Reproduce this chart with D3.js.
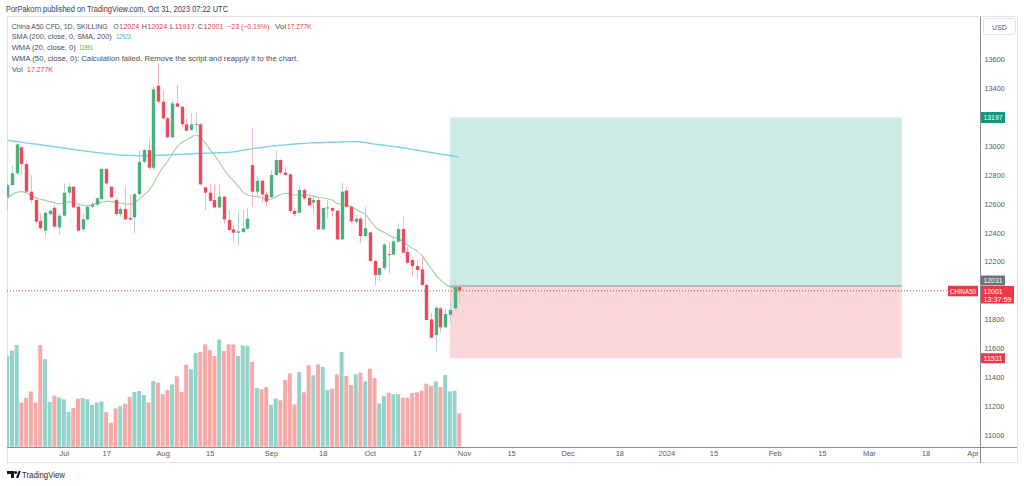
<!DOCTYPE html>
<html><head><meta charset="utf-8">
<script src="https://cdn.jsdelivr.net/npm/d3@7"></script>
<style>
body{margin:0;background:#fff;}
svg{display:block;font-family:"Liberation Sans",Arial,sans-serif;}
</style></head><body><svg id="c" width="1024" height="486"></svg>
<script>
// ---- data ----
const opens  = [12649,12730,12811,12991,12875,12684,12626,12481,12414,12529,12573,12437,12518,12677,12718,12580,12423,12492,12580,12594,12633,12841,12718,12626,12529,12564,12502,12506,12668,12891,12972,12850,13417,13307,13191,13060,13295,13272,13150,13111,13148,13150,12714,12677,12626,12575,12649,12488,12423,12400,12405,12428,12868,12684,12760,12665,12645,12799,12903,12815,12804,12550,12538,12695,12642,12608,12626,12423,12568,12571,12552,12354,12691,12580,12476,12497,12377,12402,12204,12107,12155,12252,12248,12338,12425,12268,12211,12169,12146,12038,11800,11692,11876,11745,11832,11876,12024];
const highs  = [12746,12861,13023,13000,12891,12799,12649,12534,12545,12561,12591,12534,12741,12741,12723,12591,12534,12591,12615,12645,12852,12845,12723,12638,12580,12718,12661,12672,12972,12984,13046,13410,13572,13387,13203,13318,13422,13277,13191,13226,13237,13157,12718,12741,12730,12741,12654,12557,12453,12545,12557,12568,13122,12788,12764,12684,12834,12972,12908,12857,12811,12568,12730,12707,12672,12661,12638,12580,12626,12580,12557,12748,12718,12591,12522,12511,12580,12407,12211,12165,12326,12338,12372,12465,12511,12303,12234,12211,12238,12045,11842,11892,11888,11876,11934,12072,12024];
const lows   = [12557,12718,12799,12799,12672,12603,12465,12418,12372,12511,12430,12384,12511,12649,12568,12407,12407,12483,12568,12580,12626,12730,12638,12511,12511,12488,12483,12395,12661,12880,12834,12834,13295,13180,13053,13053,13267,13134,13099,13106,13087,12728,12557,12615,12568,12568,12465,12407,12338,12315,12395,12418,12580,12649,12603,12580,12638,12788,12799,12788,12534,12511,12534,12626,12580,12534,12418,12418,12499,12511,12349,12349,12568,12465,12465,12326,12361,12197,12038,12061,12142,12119,12245,12331,12257,12183,12096,12084,12031,11791,11669,11572,11703,11738,11772,11860,11917];
const closes = [12730,12811,13011,12875,12684,12626,12476,12430,12538,12552,12442,12518,12677,12718,12575,12414,12492,12580,12596,12638,12841,12741,12645,12529,12564,12492,12492,12668,12891,12972,12850,13392,13307,13191,13060,13295,13272,13150,13106,13150,13152,12734,12677,12621,12575,12649,12492,12418,12400,12409,12430,12497,12684,12760,12665,12615,12799,12903,12815,12799,12550,12529,12695,12638,12589,12626,12423,12571,12575,12552,12354,12684,12580,12478,12497,12377,12430,12204,12107,12155,12319,12248,12340,12425,12262,12192,12169,12142,12038,11796,11673,11881,11745,11837,11865,12026,12001];
const volumesK = [47.1,49.7,52.6,22.8,25.3,28.6,22.8,52.6,45.3,23.1,26.4,25.5,24.5,18.1,20.0,24.8,25.2,24.5,21.6,22.8,23.4,17.9,12.4,19.8,21.0,22.2,25.7,28.3,28.8,26.7,22.9,34.0,33.1,27.2,29.3,32.2,36.4,28.3,42.4,40.0,48.4,49.1,52.9,50.0,46.9,55.5,49.5,52.9,52.9,46.9,52.4,52.1,43.8,30.3,29.7,30.9,21.7,25.0,24.0,34.5,37.9,21.9,38.6,28.1,42.2,36.9,42.6,41.2,29.3,30.0,37.4,49.0,36.6,31.9,37.4,38.3,33.8,40.3,35.5,22.4,26.2,27.9,27.1,27.2,25.3,25.3,27.8,28.1,29.0,32.6,31.6,33.8,30.9,37.1,28.6,29.0,17.3];
const sma200 = [13039,13035,13031,13027,13022,13017,13013,13009,13004,13000,12995,12990,12985,12981,12977,12972,12968,12963,12959,12955,12951,12947,12944,12941,12938,12936,12935,12934,12933,12933,12933,12934,12935,12937,12938,12940,12941,12942,12944,12945,12947,12949,12950,12951,12952,12953,12955,12956,12959,12964,12970,12976,12980,12985,12990,12994,12998,13002,13005,13008,13011,13014,13016,13018,13020,13022,13023,13024,13025,13026,13027,13029,13030,13030,13029,13028,13024,13019,13013,13009,13005,13001,12997,12993,12988,12983,12977,12972,12966,12961,12955,12949,12944,12939,12934,12929,12923];
const wma20  = [12638,12663,12680,12684,12677,12659,12642,12631,12624,12615,12608,12599,12604,12613,12610,12597,12590,12587,12592,12604,12610,12617,12617,12610,12606,12599,12597,12606,12631,12661,12689,12737,12799,12850,12891,12945,12991,13023,13042,13060,13076,13060,13023,12977,12938,12891,12839,12795,12760,12723,12684,12661,12654,12649,12642,12631,12631,12649,12663,12673,12668,12661,12661,12661,12659,12654,12645,12640,12635,12626,12604,12597,12590,12580,12562,12545,12529,12488,12446,12419,12403,12384,12368,12361,12338,12315,12292,12273,12246,12199,12154,12107,12073,12045,12026,12013,11991];
const timeTickIdx    = [12,21,33,43,56,67,77,87,97,107,119,130,140,150,163,173,183,195,205];
const timeTickLabels = ["Jul","17","Aug","15","Sep","18","Oct","17","Nov","15","Dec","18","2024","15","Feb","15","Mar","18","Apr"];
const priceTicks = [13600,13400,13000,12800,12600,12400,12200,11800,11600,11400,11200,11000];
const posStartIdx = 94, posEndIdx = 190;
const targetPrice = 13197, entryPrice = 12031, stopPrice = 11531, lastPrice = 12001;

// ---- colours ----
const UP="#4caf7c", DOWN="#ec4a5c", UPWICK="#b3d3dc", DOWNWICK="#f6b3bd";
const VUP="#93d3ca", VDOWN="#f7a9a8";

const svg = d3.select("#c");
const L=7, R=980, T=17, B=447;
const x = d3.scaleLinear().domain([0,206.6]).range([7.3,980]);
const y = d3.scaleLinear().domain([11000,13600]).range([435,59.3]);
const yv = d3.scaleLinear().domain([0,60]).range([446.7,330.7]);
const idx = d3.range(opens.length);

svg.append("defs").append("clipPath").attr("id","clip")
  .append("rect").attr("x",L).attr("y",T).attr("width",R-L).attr("height",B-T);

// frame
svg.append("rect").attr("x",7.5).attr("y",16.5).attr("width",1010).attr("height",446)
  .attr("fill","none").attr("stroke","#e0e3eb");

const plot = svg.append("g").attr("clip-path","url(#clip)");

// position box
plot.append("rect").attr("x",x(posStartIdx)).attr("width",x(posEndIdx)-x(posStartIdx))
  .attr("y",y(targetPrice)).attr("height",y(entryPrice)-y(targetPrice)).attr("fill","#cdebe6");
plot.append("rect").attr("x",x(posStartIdx)).attr("width",x(posEndIdx)-x(posStartIdx))
  .attr("y",y(entryPrice)).attr("height",y(stopPrice)-y(entryPrice)).attr("fill","#fcd7da");

// volume
plot.append("g").selectAll("rect").data(idx).join("rect")
  .attr("x",i=>x(i)-2).attr("width",4)
  .attr("y",i=>yv(volumesK[i])).attr("height",i=>yv(0)-yv(volumesK[i]))
  .attr("fill",i=>closes[i]>=opens[i]?VUP:VDOWN);

// entry line
plot.append("line").attr("x1",x(posStartIdx)).attr("x2",x(posEndIdx))
  .attr("y1",y(entryPrice)).attr("y2",y(entryPrice)).attr("stroke","#8a8d96").attr("stroke-width",1.2);

// last price dotted line
plot.append("line").attr("x1",L).attr("x2",948).attr("y1",y(lastPrice)+0.5).attr("y2",y(lastPrice)+0.5)
  .attr("stroke","#f23645").attr("stroke-dasharray","1,2").attr("stroke-width",1);

// SMA / WMA
plot.append("path").datum(idx).attr("fill","none").attr("stroke","#7dd3e4").attr("stroke-width",1.4)
  .attr("d",d3.line().x(i=>x(i)).y(i=>y(sma200[i])).curve(d3.curveMonotoneX));
plot.append("path").datum(idx).attr("fill","none").attr("stroke","#9bcf9b").attr("stroke-width",1.1)
  .attr("d",d3.line().x(i=>x(i)).y(i=>y(wma20[i])).curve(d3.curveMonotoneX));

// candles
const cg = plot.append("g");
cg.selectAll("line").data(idx).join("line")
  .attr("x1",i=>Math.round(x(i))+0.5).attr("x2",i=>Math.round(x(i))+0.5)
  .attr("y1",i=>y(highs[i])).attr("y2",i=>y(lows[i]))
  .attr("stroke",i=>closes[i]>=opens[i]?UPWICK:DOWNWICK).attr("stroke-width",1);
cg.selectAll("rect").data(idx).join("rect")
  .attr("x",i=>Math.round(x(i))-1.2).attr("width",3.4)
  .attr("y",i=>y(Math.max(opens[i],closes[i])))
  .attr("height",i=>Math.max(1,Math.abs(y(opens[i])-y(closes[i]))))
  .attr("fill",i=>closes[i]>=opens[i]?UP:DOWN);

// axes lines
svg.append("line").attr("x1",R+0.5).attr("x2",R+0.5).attr("y1",T).attr("y2",463).attr("stroke","#8a8d96");
svg.append("line").attr("x1",L).attr("x2",1017).attr("y1",B+0.5).attr("y2",B+0.5).attr("stroke","#8a8d96");

// price axis
const ya = svg.append("g").attr("transform",`translate(${R},0)`)
  .call(d3.axisRight(y).tickValues(priceTicks).tickSize(0).tickPadding(4.5).tickFormat(d3.format("d")));
ya.select(".domain").remove();
ya.selectAll("text").attr("font-size",7.3).attr("fill","#555a66").attr("font-family","Liberation Sans, Arial");

// time axis
const xa = svg.append("g").attr("transform",`translate(0,${B})`)
  .call(d3.axisBottom(x).tickValues(timeTickIdx).tickSize(0).tickPadding(4).tickFormat((d,i)=>timeTickLabels[i]));
xa.select(".domain").remove();
xa.selectAll("text").attr("font-size",7.5).attr("fill","#555a66").attr("font-family","Liberation Sans, Arial");

// USD box
svg.append("rect").attr("x",983.5).attr("y",18.5).attr("width",32).attr("height",16).attr("rx",2)
  .attr("fill","#fff").attr("stroke","#e0e3eb");
svg.append("text").attr("x",999.5).attr("y",29.5).attr("text-anchor","middle").attr("font-size",7).attr("fill","#555a66").text("USD");

// price labels
function tag(x0, y0, w, h, bg){
  svg.append("rect").attr("x",x0).attr("y",y0).attr("width",w).attr("height",h).attr("fill",bg);
}
function ttxt(x0, yb, s, w){
  svg.append("text").attr("x",x0).attr("y",yb).attr("font-size",7.3).attr("fill","#fff")
    .attr("textLength",w).attr("lengthAdjust","spacingAndGlyphs").text(s);
}
tag(981, y(targetPrice)-5.5, 24, 11, "#089981"); ttxt(983.5, y(targetPrice)+2.8, String(targetPrice), 19);
tag(981, 275.5, 24, 10, "#6f727c"); ttxt(983.5, 283.3, String(entryPrice), 19);
tag(981, 286, 33, 17.5, "#f23645");
ttxt(983.5, 293.6, String(lastPrice), 19);
ttxt(983.5, 301.6, "13:37:59", 28);
tag(981, y(stopPrice)-5, 24, 10, "#f23645"); ttxt(983.5, y(stopPrice)+2.8, String(stopPrice), 19);
// CHINA50 tag
tag(948, 285.8, 30, 10.5, "#f23645");
svg.append("text").attr("x",950).attr("y",293.6).attr("font-size",6.8).attr("fill","#fff")
  .attr("textLength",26).attr("lengthAdjust","spacingAndGlyphs").text("CHINA50");

// header
svg.append("text").attr("x",6).attr("y",12).attr("font-size",8.3).attr("fill","#3b3e48")
  .attr("textLength",222).attr("lengthAdjust","spacingAndGlyphs")
  .text("PorPakorn published on TradingView.com, Oct 31, 2023 07:22 UTC");

// legend
const LC="#4a4d57", RED="#f23645";
function t(xp, yp, s, col, w, fs){
  const e = svg.append("text").attr("x",xp).attr("y",yp).attr("font-size",fs||7.6).attr("fill",col).text(s);
  if(w) e.attr("textLength",w).attr("lengthAdjust","spacingAndGlyphs");
}
t(11.7,28.5,"China A50 CFD, 1D, SKILLING",LC,96,6.9);
t(113.6,28.5,"O",LC,5.2); t(119.3,28.5,"12024",RED,20);
t(141.7,28.5,"H",LC,5); t(147.3,28.5,"12024",RED,20);
t(170,28.5,"L",LC,4); t(174.8,28.5,"11917",RED,20);
t(197.7,28.5,"C",LC,5); t(203.5,28.5,"12001",RED,20);
t(227.3,28.5,"\u221223 (\u22120.19%)",RED,42);
t(275,28.5,"Vol",LC,11); t(287,28.5,"17.277K",RED,24.5);
t(11.7,39,"SMA (200, close, 0, SMA, 200)",LC,100); t(116.2,39,"12923","#22a9d6",14.5);
t(11.7,50,"WMA (20, close, 0)",LC,64); t(79.3,50,"11991","#43a047",13.5);
t(11.7,61,"WMA (50, close, 0): Calculation failed. Remove the script and reapply it to the chart.",LC,286.5);
t(11.7,72,"Vol",LC,11); t(27,72,"17.277K",RED,26);

// footer logo
const lg = svg.append("g").attr("fill","#131722");
lg.append("path").attr("d","M7 471 h7 v7 h-3 v-4 h-4 z");
lg.append("circle").attr("cx",15.6).attr("cy",472.6).attr("r",1.5);
lg.append("path").attr("d","M16 478 l2.6 -7 h2.2 l-2.6 7 z");
svg.append("text").attr("x",22).attr("y",478).attr("font-size",9).attr("fill","#2a2e39")
  .attr("textLength",43).attr("lengthAdjust","spacingAndGlyphs").text("TradingView");
</script></body></html>
